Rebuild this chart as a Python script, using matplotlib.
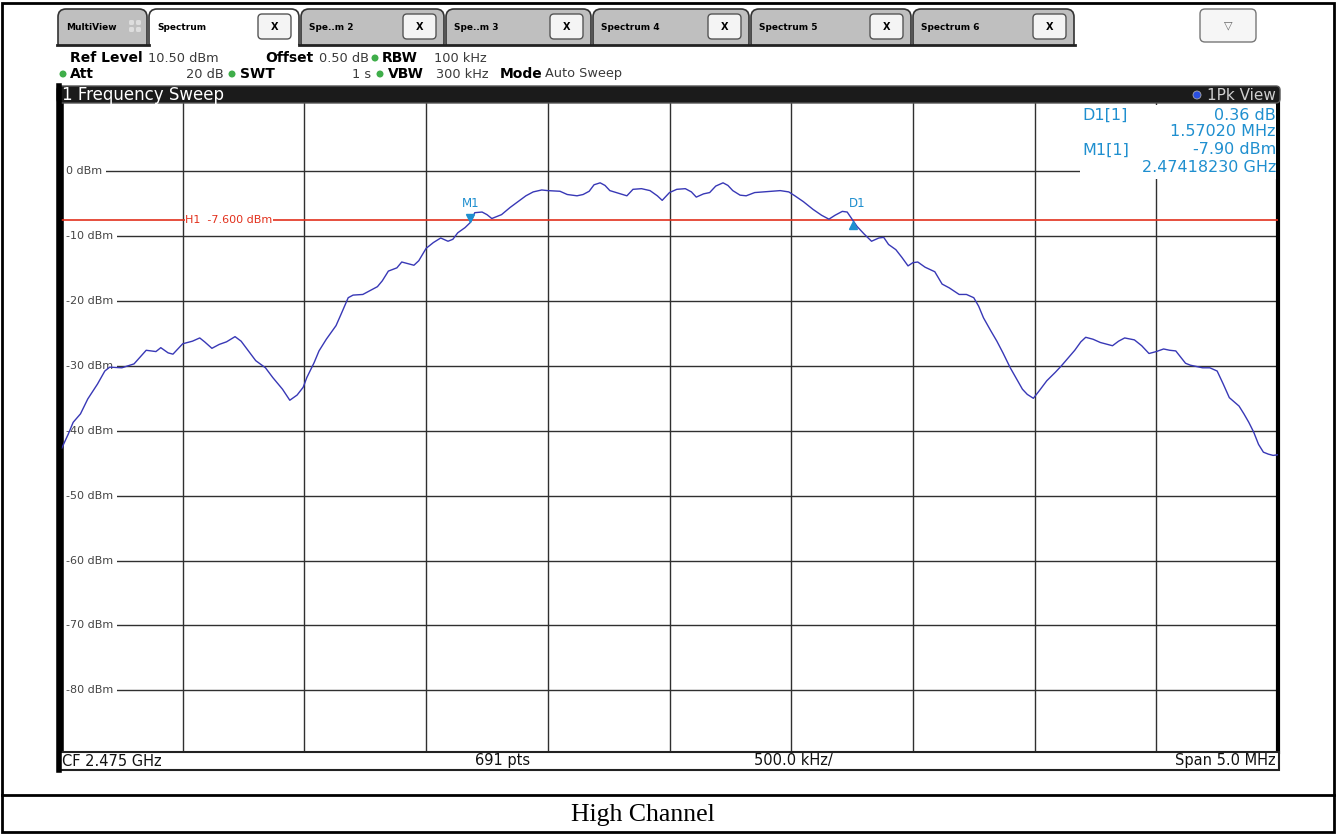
import numpy as np
import matplotlib.pyplot as plt
from matplotlib.patches import FancyBboxPatch, Rectangle, Circle
from matplotlib import transforms

# trace: offset from centre frequency (MHz), level (dBm)
freq_mhz = [-2.497, -2.47, -2.45, -2.42, -2.39, -2.35, -2.32, -2.30, -2.25, -2.20,
            -2.15, -2.11, -2.09, -2.06, -2.04, -2.02, -2.00, -1.96, -1.93, -1.91,
            -1.88, -1.85, -1.82, -1.785, -1.76, -1.73, -1.70, -1.66, -1.63, -1.59,
            -1.56, -1.53, -1.505, -1.49, -1.46, -1.44, -1.41, -1.37, -1.35, -1.32,
            -1.30, -1.26, -1.23, -1.20, -1.18, -1.155, -1.12, -1.10, -1.07, -1.05,
            -1.03, -1.00, -0.97, -0.94, -0.91, -0.89, -0.87, -0.84, -0.818, -0.80,
            -0.77, -0.75, -0.73, -0.69, -0.655, -0.63, -0.59, -0.56, -0.525, -0.50,
            -0.45, -0.42, -0.38, -0.355, -0.33, -0.31, -0.285, -0.265, -0.245, -0.21,
            -0.175, -0.15, -0.115, -0.08, -0.05, -0.03, 0.00, 0.03, 0.065, 0.09,
            0.11, 0.14, 0.165, 0.19, 0.22, 0.24, 0.26, 0.29, 0.315, 0.35,
            0.385, 0.42, 0.455, 0.49, 0.515, 0.55, 0.59, 0.625, 0.655, 0.68,
            0.71, 0.73, 0.7525, 0.77, 0.80, 0.83, 0.86, 0.88, 0.90, 0.93,
            0.955, 0.98, 1.00, 1.02, 1.05, 1.09, 1.12, 1.15, 1.17, 1.19,
            1.22, 1.25, 1.27, 1.29, 1.32, 1.345, 1.37, 1.40, 1.43, 1.45,
            1.47, 1.495, 1.52, 1.55, 1.585, 1.61, 1.64, 1.665, 1.69, 1.71,
            1.74, 1.77, 1.79, 1.82, 1.845, 1.87, 1.91, 1.94, 1.97, 2.00,
            2.03, 2.055, 2.08, 2.12, 2.14, 2.19, 2.22, 2.25, 2.275, 2.30,
            2.34, 2.36, 2.38, 2.40, 2.42, 2.44, 2.46, 2.48, 2.50]
level_dbm = [-42.7, -40.5, -38.7, -37.4, -35.1, -32.8, -30.8, -30.2, -30.3, -29.7,
             -27.6, -27.8, -27.2, -28.0, -28.2, -27.4, -26.6, -26.2, -25.7, -26.3,
             -27.3, -26.7, -26.3, -25.5, -26.2, -27.7, -29.2, -30.3, -31.8, -33.6,
             -35.3, -34.5, -33.3, -31.8, -29.5, -27.7, -25.9, -23.8, -22.1, -19.5,
             -19.1, -19.0, -18.4, -17.8, -16.9, -15.4, -14.9, -14.0, -14.3, -14.5,
             -13.8, -11.9, -11.0, -10.3, -10.8, -10.5, -9.5, -8.7, -7.9, -6.4,
             -6.3, -6.7, -7.3, -6.7, -5.6, -4.9, -3.8, -3.2, -2.9, -3.0,
             -3.1, -3.6, -3.8, -3.6, -3.1, -2.1, -1.8, -2.2, -3.0, -3.4,
             -3.8, -2.8, -2.7, -3.0, -3.8, -4.5, -3.3, -2.8, -2.7, -3.2,
             -4.0, -3.5, -3.3, -2.3, -1.8, -2.2, -3.0, -3.7, -3.8, -3.3,
             -3.2, -3.1, -3.0, -3.2, -3.8, -4.7, -5.9, -6.8, -7.4, -6.8,
             -6.2, -6.3, -7.54, -8.5, -9.7, -10.8, -10.3, -10.2, -11.3, -12.1,
             -13.3, -14.6, -14.1, -14.0, -14.8, -15.5, -17.4, -18.0, -18.5, -19.0,
             -19.0, -19.5, -20.8, -22.6, -24.6, -26.2, -28.0, -30.3, -32.3, -33.6,
             -34.4, -35.0, -33.8, -32.3, -31.0, -30.0, -28.7, -27.6, -26.3, -25.6,
             -25.9, -26.4, -26.6, -26.9, -26.2, -25.7, -26.0, -26.9, -28.1, -27.8,
             -27.4, -27.6, -27.7, -29.6, -29.9, -30.3, -30.3, -30.8, -32.8, -34.9,
             -36.2, -37.4, -38.7, -40.2, -42.1, -43.3, -43.6, -43.8, -43.7]

ref_level = 10.5
y_ticks = [0, -10, -20, -30, -40, -50, -60, -70, -80]
x_ticks = [-2.0, -1.5, -1.0, -0.5, 0.0, 0.5, 1.0, 1.5, 2.0]
h1_level = -7.6
m1_freq, m1_level = -0.8177, -7.90     # 2.47418230 GHz
d1_freq, d1_level = 0.7525, -7.54      # M1 + 1.57020 MHz, +0.36 dB

tab_names = ["MultiView", "Spectrum", "Spe..m 2", "Spe..m 3", "Spectrum 4", "Spectrum 5", "Spectrum 6"]
tab_edges = [57, 148, 300, 445, 592, 750, 912, 1075]

W, H = 1337, 835
mk_col = '#1f8fcf'
green = '#3fae4a'

fig = plt.figure(figsize=(W / 100, H / 100), dpi=100)

# pixel-space background layer
bg = fig.add_axes([0, 0, 1, 1], zorder=0)
bg.set_xlim(0, W)
bg.set_ylim(H, 0)
bg.axis('off')

# tabs
for i, name in enumerate(tab_names):
    x0, x1 = tab_edges[i], tab_edges[i + 1]
    active = (i == 1)
    bg.add_patch(FancyBboxPatch((x0 + 1, 9), x1 - x0 - 2, 42,
                                boxstyle="round,pad=0,rounding_size=8",
                                fc='white' if active else '#bfbfbf', ec='#333333', lw=1.2, zorder=1))
    bg.text(x0 + 9, 27, name, fontsize=6.5, fontweight='bold', va='center', ha='left', zorder=3)
    if i == 0:
        for dx in (0, 7):
            for dy in (0, 7):
                bg.add_patch(FancyBboxPatch((129 + dx, 20 + dy), 5, 5, boxstyle="round,pad=0,rounding_size=1.5",
                                            fc='#dddddd', ec='none', zorder=3))
    else:
        bx = x1 - 42
        bg.add_patch(FancyBboxPatch((bx, 14), 33, 25, boxstyle="round,pad=0,rounding_size=4",
                                    fc='#f4f4f4', ec='#555555', lw=1, zorder=3))
        bg.text(bx + 16.5, 26.5, "X", fontsize=7, fontweight='bold', ha='center', va='center', zorder=4)

# cover tab bottoms and draw the baseline, open under the active tab
bg.add_patch(Rectangle((50, 45), 1240, 40, fc='white', ec='none', zorder=2))
bg.plot([57, 149], [44.5, 44.5], color='#222222', lw=2, zorder=3)
bg.plot([299, 1075], [44.5, 44.5], color='#222222', lw=2, zorder=3)
bg.add_patch(FancyBboxPatch((1200, 9), 56, 33, boxstyle="round,pad=0,rounding_size=5",
                            fc='#f6f6f6', ec='#777777', lw=1, zorder=3))
bg.text(1228, 25, "\u25bd", fontsize=8, color='#666666', ha='center', va='center', zorder=4)

# settings lines
lab = dict(fontsize=10, va='center', zorder=4, fontweight='bold')
val = dict(fontsize=9.3, va='center', zorder=4, color='#3a3a3a')
bg.text(70, 58, "Ref Level", **lab)
bg.text(148, 58, "10.50 dBm", **val)
bg.text(265, 58, "Offset", **lab)
bg.text(319, 58, "0.50 dB", **val)
bg.text(382, 58, "RBW", **lab)
bg.text(434, 58, "100 kHz", **val)
bg.text(70, 74, "Att", **lab)
bg.text(224, 74, "20 dB", ha='right', **val)
bg.text(240, 74, "SWT", **lab)
bg.text(371, 74, "1 s", ha='right', **val)
bg.text(388, 74, "VBW", **lab)
bg.text(436, 74, "300 kHz", **val)
bg.text(500, 74, "Mode", **lab)
bg.text(545, 74, "Auto Sweep", **val)
for cx, cy in [(375, 58), (63, 74), (232, 74), (380, 74)]:
    bg.add_patch(Circle((cx, cy), 3.5, fc=green, ec='none', zorder=4))

# outer table frame and caption
bg.add_patch(Rectangle((2, 3), W - 5, H - 6, fc='none', ec='black', lw=2, zorder=5))
bg.plot([2, W - 3], [795, 795], color='black', lw=2, zorder=5)
bg.text(643, 815, "High Channel", fontsize=18.5, family='Liberation Serif',
        ha='center', va='center', zorder=5)

# spectrum plot
ax = fig.add_axes([61 / W, (H - 752) / H, 1217 / W, 649 / H], zorder=2)
ax.set_xlim(-2.5, 2.5)
ax.set_ylim(ref_level - 100, ref_level)
ax.set_xticks(x_ticks)
ax.set_yticks(y_ticks)
ax.tick_params(length=0, labelbottom=False, labelleft=False)
ax.grid(True, color='#303030', lw=1)
ax.set_axisbelow(True)
for s in ('top', 'bottom'):
    ax.spines[s].set_visible(False)
ax.spines['left'].set_linewidth(4)
ax.spines['right'].set_linewidth(3)

ylab_tr = transforms.blended_transform_factory(ax.transAxes, ax.transData)
for v in y_ticks:
    ax.text(0.0045, v, f"{v} dBm", transform=ylab_tr, fontsize=8, color='#444444',
            ha='left', va='center', zorder=2.5,
            bbox=dict(fc='white', ec='none', pad=2.5))

ax.axhline(h1_level, color='#e2301c', lw=1.2, zorder=3)
ax.text(-1.99, h1_level, "H1  -7.600 dBm", fontsize=8, color='#e2301c', ha='left', va='center',
        zorder=3.5, bbox=dict(fc='white', ec='none', pad=0.3))

ax.plot(freq_mhz, level_dbm, color='#3838b6', lw=1, zorder=4)

up = transforms.offset_copy(ax.transData, fig=fig, y=3.5, units='points')
down = transforms.offset_copy(ax.transData, fig=fig, y=-3.5, units='points')
ax.plot(m1_freq, m1_level, marker='v', color=mk_col, ms=6, transform=up, zorder=5)
ax.plot(d1_freq, d1_level, marker='^', color=mk_col, ms=6, transform=down, zorder=5)
ax.annotate("M1", (m1_freq, m1_level), xytext=(0, 9), textcoords='offset points',
            fontsize=8.5, color=mk_col, ha='center', va='bottom', zorder=5)
ax.annotate("D1", (d1_freq, d1_level), xytext=(3, 7), textcoords='offset points',
            fontsize=8.5, color=mk_col, ha='center', va='bottom', zorder=5)

# foreground layer: title bar, marker table, footer
fg = fig.add_axes([0, 0, 1, 1], zorder=3)
fg.set_xlim(0, W)
fg.set_ylim(H, 0)
fg.axis('off')

fg.add_patch(FancyBboxPatch((57, 86), 1223, 17, boxstyle="round,pad=0,rounding_size=4",
                            fc='#1b1b1b', ec='#555555', lw=1))
fg.text(62, 95, "1 Frequency Sweep", fontsize=12, color='white', va='center')
fg.add_patch(Circle((1197, 95), 4, fc='#2a4fe0', ec='#aaaaaa', lw=0.6))
fg.text(1276, 95, "1Pk View", fontsize=11, color='#cfcfcf', va='center', ha='right')

fg.add_patch(Rectangle((1080, 105), 196, 74, fc='white', ec='none'))
mk = dict(fontsize=11.5, color=mk_col, va='center')
fg.text(1082, 115, "D1[1]", **mk)
fg.text(1276, 115, "0.36 dB", ha='right', **mk)
fg.text(1276, 132, "1.57020 MHz", ha='right', **mk)
fg.text(1082, 150, "M1[1]", **mk)
fg.text(1276, 150, "-7.90 dBm", ha='right', **mk)
fg.text(1276, 167, "2.47418230 GHz", ha='right', **mk)

fg.add_patch(Rectangle((58, 752), 1221, 18, fc='white', ec='#222222', lw=1.5))
fg.plot([59, 59], [86, 770], color='black', lw=4)
ft = dict(fontsize=10.5, va='center', color='#111111')
fg.text(62, 761, "CF 2.475 GHz", **ft)
fg.text(503, 761, "691 pts", ha='center', **ft)
fg.text(793, 761, "500.0 kHz/", ha='center', **ft)
fg.text(1276, 761, "Span 5.0 MHz", ha='right', **ft)

fig.savefig("out.png", dpi=100)
